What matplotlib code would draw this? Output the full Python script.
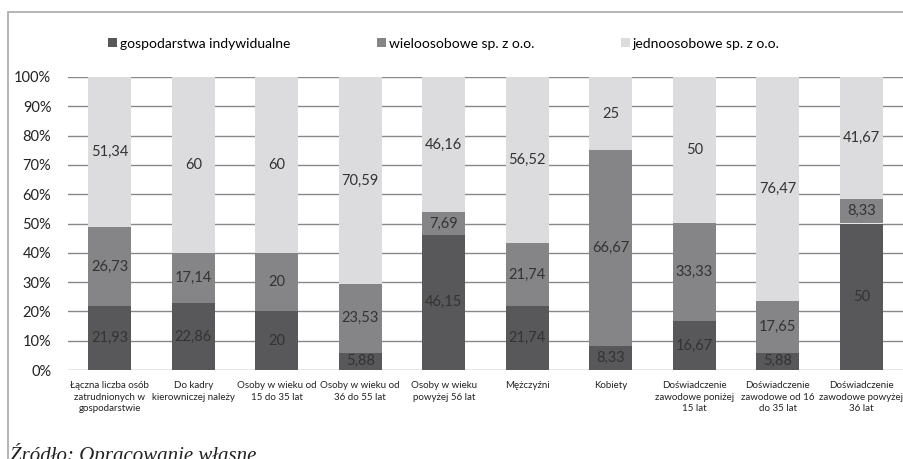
import matplotlib.pyplot as plt
import numpy as np
from matplotlib.patches import Rectangle

categories = [
    "Łączna liczba osób\nzatrudnionych w\ngospodarstwie",
    "Do kadry\nkierowniczej należy",
    "Osoby w wieku od\n15 do 35 lat",
    "Osoby w wieku od\n36 do 55 lat",
    "Osoby w wieku\npowyżej 56 lat",
    "Mężczyźni",
    "Kobiety",
    "Doświadczenie\nzawodowe poniżej\n15 lat",
    "Doświadczenie\nzawodowe od 16\ndo 35 lat",
    "Doświadczenie\nzawodowe powyżej\n36 lat",
]
series_names = ["gospodarstwa indywidualne", "wieloosobowe sp. z o.o.", "jednoosobowe sp. z o.o."]
indywidualne = [21.93, 22.86, 20, 5.88, 46.15, 21.74, 8.33, 16.67, 5.88, 50]
wieloosobowe = [26.73, 17.14, 20, 23.53, 7.69, 21.74, 66.67, 33.33, 17.65, 8.33]
jednoosobowe = [51.34, 60, 60, 70.59, 46.16, 56.52, 25, 50, 76.47, 41.67]
colors = ["#58585a", "#858587", "#dcdcde"]

plt.rcParams['font.family'] = ['Lato', 'DejaVu Sans']

fig = plt.figure(figsize=(9.04, 4.59), dpi=100)
W, H = 904, 459

# frame around chart (cut off at right and bottom)
fig.patches.append(Rectangle((8 / W, -0.1), 1.1, 1 - 12 / H + 0.1, transform=fig.transFigure,
                             fill=False, edgecolor="#a8a8a8", lw=1.2))

ax = fig.add_axes([68 / W, 1 - 370 / H, 835 / W, (370 - 77) / H])
x = np.arange(len(categories))
bottom = np.zeros(len(categories))
for vals, c, name in zip([indywidualne, wieloosobowe, jednoosobowe], colors, series_names):
    vals = np.array(vals)
    ax.bar(x, vals, 0.52, bottom=bottom, color=c, label=name, zorder=3)
    for xi, b, v in zip(x, bottom, vals):
        ax.text(xi, b + v / 2, f"{v:g}".replace(".", ","), ha="center", va="center",
                fontsize=10.5, color="#333333", zorder=4)
    bottom += vals

ax.set_xlim(-0.5, len(categories) - 0.5)
ax.set_ylim(0, 100)
ax.set_yticks(np.arange(0, 101, 10))
ax.set_yticklabels([f"{v}%" for v in range(0, 101, 10)], fontsize=10.5, color="#222222")
ax.set_xticks(x)
ax.set_xticklabels(categories, fontsize=7, color="#222222", linespacing=1.35)
ax.tick_params(axis="y", length=0, pad=12)
ax.tick_params(axis="x", length=0, pad=8)
ax.grid(axis="y", color="#888888", lw=1, zorder=0)
for s in ax.spines.values():
    s.set_visible(False)

ax.legend(loc="lower left", bbox_to_anchor=(96 / W, 1 - 62 / H), bbox_transform=fig.transFigure,
          ncol=3, frameon=False, fontsize=10, handlelength=0.6, handleheight=0.6,
          handletextpad=0.2, columnspacing=6.3)

fig.text(10 / W, 1 - 454 / H, "Źródło: Opracowanie własne", fontsize=15, style="italic",
         family="Liberation Serif", va="center", color="#222222")

fig.savefig("out.png", dpi=100)
